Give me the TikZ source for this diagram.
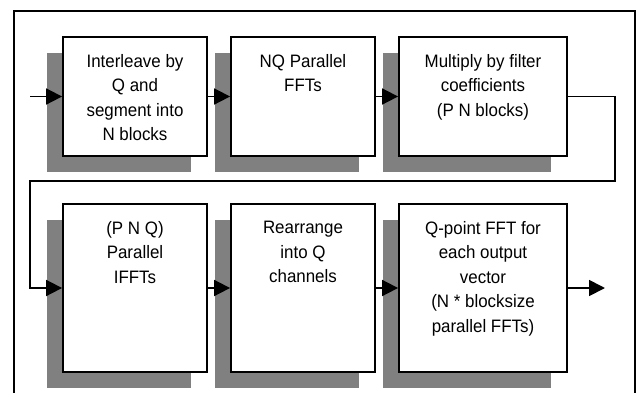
\documentclass[tikz,border=0pt]{standalone}
\usepackage{fontspec}
\setmainfont{Liberation Sans}[FakeStretch=0.94]
\usepackage{xcolor}
\usetikzlibrary{positioning, arrows.meta, shadows}
\definecolor{shadegray}{HTML}{808080}

\begin{document}
\begin{tikzpicture}[x=1pt, y=-1pt,
  stage/.style={draw, line width=1.8pt, fill=white, inner sep=0pt,
    minimum width=144pt, minimum height=119pt,
    drop shadow={shadow xshift=-16pt, shadow yshift=-16pt, fill=shadegray, opacity=1}},
  wide/.style={minimum width=168pt},
  tall/.style={minimum height=168pt},
  txt/.style={align=center, inner sep=0pt, font=\fontsize{18}{24.5}\selectfont},
  flow/.style={line width=1.8pt, -{Triangle[length=16pt, width=16pt]}}]
\useasboundingbox (0,0) rectangle (641,392);

% outer frame, cut at the bottom
\draw[line width=1.8pt] (14,400) |- (635,11) -- (635,400);

% first row
\node[stage] (b1) at (135,96.5) {};
\node[stage] (b2) at (303,96.5) {};
\node[stage, wide] (b3) at (483,96.5) {};

% second row
\node[stage, tall] (b4) at (135,288) {};
\node[stage, tall] (b5) at (303,288) {};
\node[stage, tall, wide] (b6) at (483,288) {};

\node[txt, below=18pt of b1.north] {Interleave by\\Q and\\segment into\\N blocks};
\node[txt, below=18pt of b2.north] {NQ Parallel\\FFTs};
\node[txt, below=18pt of b3.north] {Multiply by filter\\coefficients\\(P N blocks)};
\node[txt, below=18pt of b4.north] {(P N Q)\\Parallel\\IFFTs};
\node[txt, below=18pt of b5.north] {Rearrange\\into Q\\channels};
\node[txt, below=18pt of b6.north] {Q-point FFT for\\each output\\vector\\(N * blocksize\\parallel FFTs)};

\coordinate (src) at (30,96.5);
\coordinate (sink) at (605,288);
\coordinate (turnR) at (615,181);
\coordinate (turnL) at (30,181);

\draw[flow] (src) -- (b1);
\draw[flow] (b1) -- (b2);
\draw[flow] (b2) -- (b3);
\draw[flow] (b3.east) -| (turnR) -- (turnL) |- (b4.west);
\draw[flow] (b4) -- (b5);
\draw[flow] (b5) -- (b6);
\draw[flow] (b6) -- (sink);
\end{tikzpicture}
\end{document}
